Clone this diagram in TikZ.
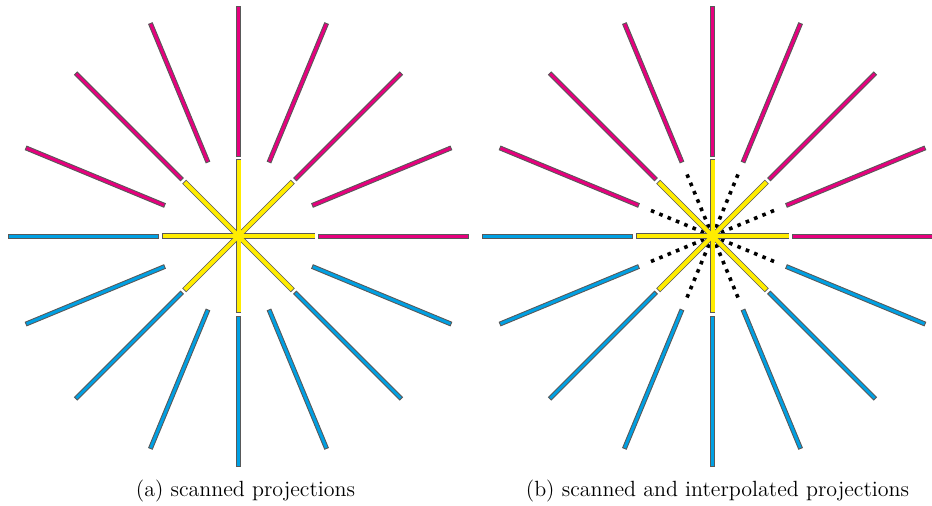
\documentclass[tikz,border=0pt]{standalone}
\definecolor{projpink}{RGB}{230,0,126}
\definecolor{projblue}{RGB}{0,160,227}
\definecolor{projyellow}{RGB}{255,236,0}
\begin{document}
\begin{tikzpicture}[x=0.5pt,y=0.5pt,
    pinkbar/.style={draw=black!65,line width=0.45pt,fill=projpink},
    bluebar/.style={draw=black!65,line width=0.45pt,fill=projblue},
    yellowbar/.style={draw=black!65,line width=0.8pt,fill=projyellow},
    yellowfill/.style={fill=projyellow},
    interp/.style={black,line width=1.8pt,dash pattern=on 1.8pt off 2.7pt},
    caption/.style={anchor=base,font=\fontsize{11}{13}\selectfont}]
  \useasboundingbox (0,0) rectangle (932,506);
  % (a) scanned projections
  \begin{scope}[shift={(238.5,270)}]
        \draw[pinkbar,rotate=0] (80,-2) rectangle (230,2);
        \draw[pinkbar,rotate=22.5] (80,-2) rectangle (230,2);
        \draw[pinkbar,rotate=45] (80,-2) rectangle (230,2);
        \draw[pinkbar,rotate=67.5] (80,-2) rectangle (230,2);
        \draw[pinkbar,rotate=90] (80,-2) rectangle (230,2);
        \draw[pinkbar,rotate=112.5] (80,-2) rectangle (230,2);
        \draw[pinkbar,rotate=135] (80,-2) rectangle (230,2);
        \draw[pinkbar,rotate=157.5] (80,-2) rectangle (230,2);
        \draw[bluebar,rotate=180] (80,-2) rectangle (230,2);
        \draw[bluebar,rotate=202.5] (80,-2) rectangle (230,2);
        \draw[bluebar,rotate=225] (80,-2) rectangle (230,2);
        \draw[bluebar,rotate=247.5] (80,-2) rectangle (230,2);
        \draw[bluebar,rotate=270] (80,-2) rectangle (230,2);
        \draw[bluebar,rotate=292.5] (80,-2) rectangle (230,2);
        \draw[bluebar,rotate=315] (80,-2) rectangle (230,2);
        \draw[bluebar,rotate=337.5] (80,-2) rectangle (230,2);
        \draw[yellowbar,rotate=0] (-76,-2) rectangle (76,2);
        \draw[yellowbar,rotate=45] (-76,-2) rectangle (76,2);
        \draw[yellowbar,rotate=90] (-76,-2) rectangle (76,2);
        \draw[yellowbar,rotate=135] (-76,-2) rectangle (76,2);
        \fill[yellowfill,rotate=0] (-76,-2) rectangle (76,2);
        \fill[yellowfill,rotate=45] (-76,-2) rectangle (76,2);
        \fill[yellowfill,rotate=90] (-76,-2) rectangle (76,2);
        \fill[yellowfill,rotate=135] (-76,-2) rectangle (76,2);
  \end{scope}
  % (b) scanned and interpolated projections
  \begin{scope}[shift={(712.5,270)}]
        \draw[pinkbar,rotate=0] (80,-2) rectangle (230,2);
        \draw[pinkbar,rotate=22.5] (80,-2) rectangle (230,2);
        \draw[pinkbar,rotate=45] (80,-2) rectangle (230,2);
        \draw[pinkbar,rotate=67.5] (80,-2) rectangle (230,2);
        \draw[pinkbar,rotate=90] (80,-2) rectangle (230,2);
        \draw[pinkbar,rotate=112.5] (80,-2) rectangle (230,2);
        \draw[pinkbar,rotate=135] (80,-2) rectangle (230,2);
        \draw[pinkbar,rotate=157.5] (80,-2) rectangle (230,2);
        \draw[bluebar,rotate=180] (80,-2) rectangle (230,2);
        \draw[bluebar,rotate=202.5] (80,-2) rectangle (230,2);
        \draw[bluebar,rotate=225] (80,-2) rectangle (230,2);
        \draw[bluebar,rotate=247.5] (80,-2) rectangle (230,2);
        \draw[bluebar,rotate=270] (80,-2) rectangle (230,2);
        \draw[bluebar,rotate=292.5] (80,-2) rectangle (230,2);
        \draw[bluebar,rotate=315] (80,-2) rectangle (230,2);
        \draw[bluebar,rotate=337.5] (80,-2) rectangle (230,2);
        \draw[interp] (0,0) -- (22.5:72);
        \draw[interp] (0,0) -- (67.5:72);
        \draw[interp] (0,0) -- (112.5:72);
        \draw[interp] (0,0) -- (157.5:72);
        \draw[interp] (0,0) -- (202.5:72);
        \draw[interp] (0,0) -- (247.5:72);
        \draw[interp] (0,0) -- (292.5:72);
        \draw[interp] (0,0) -- (337.5:72);
        \draw[yellowbar,rotate=0] (-76,-2) rectangle (76,2);
        \draw[yellowbar,rotate=45] (-76,-2) rectangle (76,2);
        \draw[yellowbar,rotate=90] (-76,-2) rectangle (76,2);
        \draw[yellowbar,rotate=135] (-76,-2) rectangle (76,2);
        \fill[yellowfill,rotate=0] (-76,-2) rectangle (76,2);
        \fill[yellowfill,rotate=45] (-76,-2) rectangle (76,2);
        \fill[yellowfill,rotate=90] (-76,-2) rectangle (76,2);
        \fill[yellowfill,rotate=135] (-76,-2) rectangle (76,2);
  \end{scope}
  \node[caption] (capa) at (245.5,9) {(a) scanned projections};
  \node[caption] (capb) at (717.5,9) {(b) scanned and interpolated projections};
\end{tikzpicture}
\end{document}
